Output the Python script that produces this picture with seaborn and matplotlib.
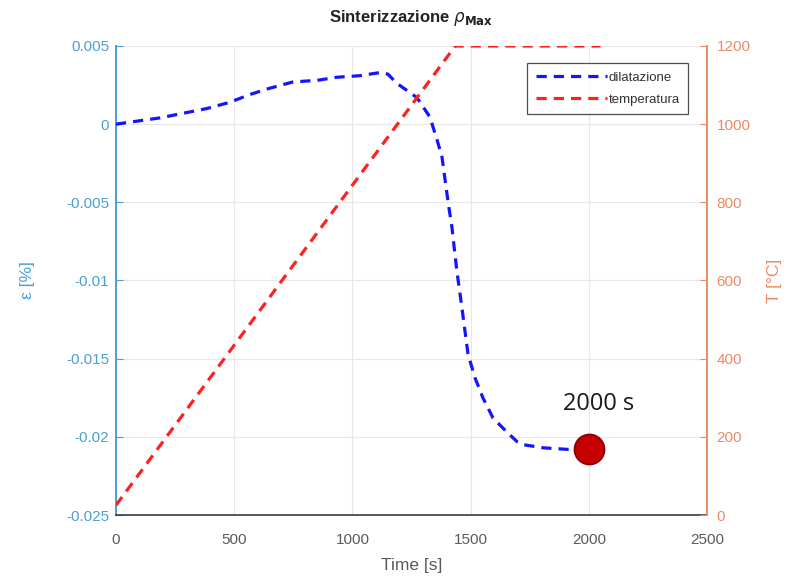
import matplotlib
matplotlib.use("Agg")
import matplotlib.pyplot as plt
import seaborn as sns
import pandas as pd

# ---- data ----
time_dil = [0, 186, 385, 482, 567, 651, 749, 850, 935, 1032, 1117, 1150, 1189,
            1273, 1328, 1358, 1379, 1404, 1421, 1442, 1463, 1489, 1518, 1552,
            1595, 1654, 1696, 1722, 1806, 1908, 1995]
eps_dil = [0, 0.0004, 0.0010, 0.0014, 0.0019, 0.0023, 0.0027, 0.0028, 0.0030,
           0.0031, 0.0033, 0.0032, 0.0026, 0.0017, 0.00045, -0.0010, -0.0021,
           -0.0049, -0.0066, -0.0094, -0.0117, -0.0147, -0.0162, -0.0175,
           -0.0188, -0.0197, -0.0203, -0.0205, -0.0207, -0.0208, -0.0208]
time_temp = [0, 1435, 2050]
temp_vals = [25, 1200, 1200]
marker_t = [2000]
marker_eps = [-0.0208]
marker_label = "2000 s"

x_ticks = [0, 500, 1000, 1500, 2000, 2500]
y_left_ticks = [-0.025, -0.02, -0.015, -0.01, -0.005, 0, 0.005]
y_left_labels = ["-0.025", "-0.02", "-0.015", "-0.01", "-0.005", "0", "0.005"]
y_right_ticks = [0, 200, 400, 600, 800, 1000, 1200]

df_dil = pd.DataFrame({"t": time_dil, "eps": eps_dil})
df_temp = pd.DataFrame({"t": time_temp, "T": temp_vals})
df_mark = pd.DataFrame({"t": marker_t, "eps": marker_eps})

sns.set_style("white")
plt.rcParams['font.family'] = ['Liberation Sans', 'DejaVu Sans']
plt.rcParams['mathtext.fontset'] = 'dejavusans'

blue_ax = '#4a9fd4'
orange_ax = '#ec8a66'
tick_gray = '#5a5a5a'

fig = plt.figure(figsize=(7.96, 5.79), dpi=100)
ax = fig.add_axes([0.1457, 0.1105, 0.7425, 0.8101])
ax2 = ax.twinx()

sns.lineplot(data=df_dil, x="t", y="eps", ax=ax, color='#1414ff', lw=2.3,
             label="dilatazione", legend=False, zorder=3)
ax.lines[-1].set_dashes((3.2, 2.2))
sns.scatterplot(data=df_mark, x="t", y="eps", ax=ax, s=470, color='#c40000',
                edgecolor='#8a0000', linewidth=1.2, zorder=5, legend=False)
ax.annotate(marker_label, xy=(marker_t[0], marker_eps[0]), xytext=(7, 24),
            textcoords='offset points', ha='center', va='bottom',
            fontsize=17, color='#1a1a1a', family=['Open Sans', 'DejaVu Sans'])

sns.lineplot(data=df_temp, x="t", y="T", ax=ax2, color='#ff2020', lw=2.3,
             label="temperatura", legend=False, zorder=3)
ax2.lines[-1].set_dashes((3.2, 2.2))

ax.set_xlim(0, 2500)
ax.set_ylim(-0.025, 0.005)
ax2.set_ylim(0, 1200)
ax.set_xticks(x_ticks)
ax.set_xticklabels([str(v) for v in x_ticks])
ax.set_yticks(y_left_ticks)
ax.set_yticklabels(y_left_labels)
ax2.set_yticks(y_right_ticks)
ax2.set_yticklabels([str(v) for v in y_right_ticks])

ax.grid(True, color='#e8e8e8', lw=0.9)
ax.set_axisbelow(True)

for a in (ax, ax2):
    a.spines['top'].set_visible(False)
ax.spines['left'].set_color(blue_ax)
ax.spines['left'].set_linewidth(1.4)
ax.spines['bottom'].set_color('#3a3a3a')
ax.spines['bottom'].set_linewidth(1.2)
ax.spines['right'].set_visible(False)
ax2.spines['left'].set_visible(False)
ax2.spines['bottom'].set_visible(False)
ax2.spines['right'].set_color(orange_ax)
ax2.spines['right'].set_linewidth(1.4)

ax.tick_params(axis='x', direction='in', length=5, colors=tick_gray,
               labelsize=11, pad=13, color='#3a3a3a')
ax.tick_params(axis='y', direction='in', length=5, color=blue_ax,
               labelcolor=blue_ax, labelsize=11, pad=5)
ax2.tick_params(axis='y', direction='in', length=5, color=orange_ax,
                labelcolor=orange_ax, labelsize=11, pad=7)

ax.set_xlabel("Time [s]", fontsize=12.5, color=tick_gray, labelpad=8)
ax.set_ylabel("ε [%]", fontsize=12.5, color=blue_ax, labelpad=22)
ax2.set_ylabel("T [°C]", fontsize=12.5, color=orange_ax, labelpad=12,
               rotation=90)

ax.set_title(r"Sinterizzazione $\rho_{\mathbf{Max}}$", fontsize=12,
             fontweight='bold', color='#222222', pad=17)

handles = ax.lines[:1] + ax2.lines[:1]
leg = ax2.legend(handles, ["dilatazione", "temperatura"], loc='upper right',
                 bbox_to_anchor=(0.968, 0.964), fontsize=9.5, frameon=True,
                 fancybox=False, edgecolor='#222222', handlelength=5.4,
                 handletextpad=0.1, borderpad=0.65, labelspacing=0.75,
                 borderaxespad=0)
leg.get_frame().set_linewidth(0.9)
for txt in leg.get_texts():
    txt.set_color('#333333')

fig.savefig("out.png", dpi=100)
